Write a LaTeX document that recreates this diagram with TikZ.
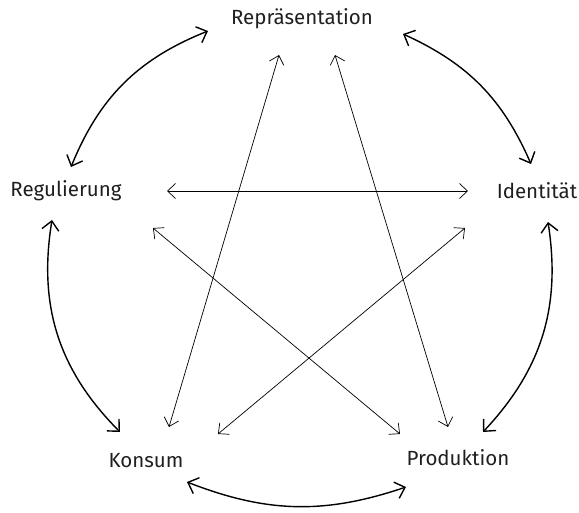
\documentclass[tikz,border=0pt]{standalone}
\usepackage{fontspec}
\setmainfont{Fira Sans}
\usetikzlibrary{arrows.meta}
\begin{document}
\begin{tikzpicture}[x=1pt,y=1pt,
  lbl/.style={anchor=base,inner sep=0pt,font=\fontsize{20.5}{24}\selectfont,text=black!88},
  inner/.style={line width=0.7pt,{Straight Barb[length=8pt,width=15pt]}-{Straight Barb[length=8pt,width=15pt]}},
  outer/.style={line width=1.4pt,{Straight Barb[length=9pt,width=17pt]}-{Straight Barb[length=9pt,width=17pt]}}]
\useasboundingbox (0,0) rectangle (579,512);
% nodes
\node[lbl] (rep) at (302,487) {Repräsentation};
\node[lbl] (reg) at (66,315) {Regulierung};
\node[lbl] (ide) at (537,313) {Identität};
\node[lbl] (kon) at (146,45) {Konsum};
\node[lbl] (pro) at (458,46) {Produktion};
% connector ends
\coordinate (reg-e) at (167,321);
\coordinate (ide-w) at (468,321);
\coordinate (reg-se) at (153,284);
\coordinate (pro-nw) at (400,78);
\coordinate (ide-sw) at (465,284);
\coordinate (kon-ne) at (218,78);
\coordinate (rep-sl) at (279,457);
\coordinate (kon-n) at (169,85);
\coordinate (rep-sr) at (335,457);
\coordinate (pro-n) at (448,85);
\coordinate (rep-w) at (208,481);
\coordinate (reg-n) at (71,345);
\coordinate (rep-e) at (403,478);
\coordinate (ide-n) at (531,348);
\coordinate (ide-s) at (548,290);
\coordinate (pro-ne) at (483,80);
\coordinate (pro-s) at (406,25);
\coordinate (kon-s) at (187,30);
\coordinate (kon-nw) at (120,80);
\coordinate (reg-s) at (52,292);
% inner star
\draw[inner] (reg-e) -- (ide-w);
\draw[inner] (reg-se) -- (pro-nw);
\draw[inner] (ide-sw) -- (kon-ne);
\draw[inner] (rep-sl) -- (kon-n);
\draw[inner] (rep-sr) -- (pro-n);
% outer ring
\draw[outer] (reg-n) to[bend left=23] (rep-w);
\draw[outer] (rep-e) to[bend left=21] (ide-n);
\draw[outer] (ide-s) to[bend left=26] (pro-ne);
\draw[outer] (pro-s) to[bend left=20] (kon-s);
\draw[outer] (kon-nw) to[bend left=27] (reg-s);
\end{tikzpicture}
\end{document}
